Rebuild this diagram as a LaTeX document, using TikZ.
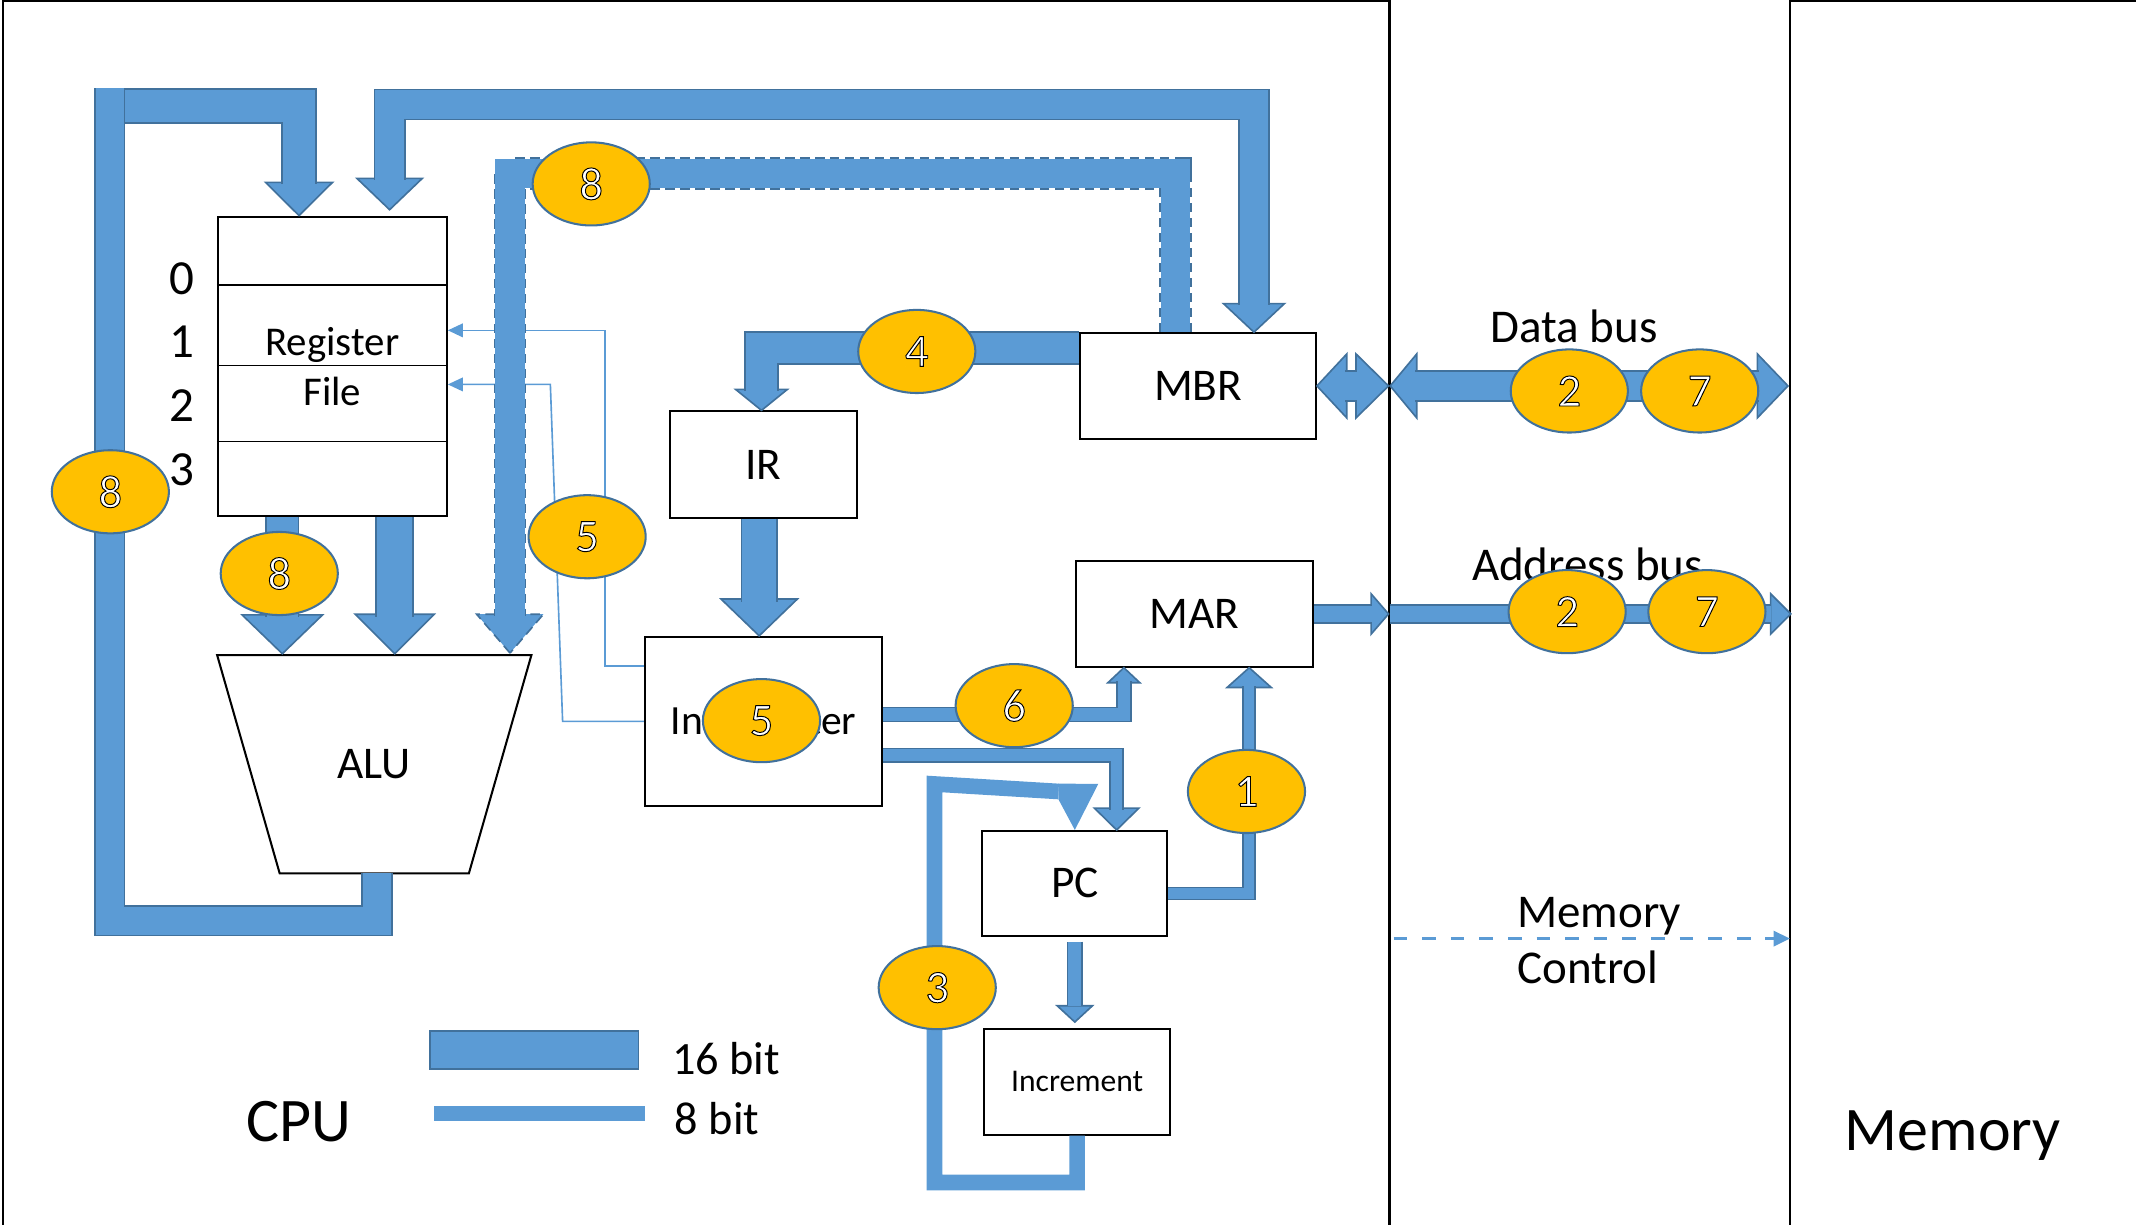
\documentclass[tikz,border=0pt]{standalone}
\usepackage{fontspec}
\setmainfont{Carlito}
\usetikzlibrary{arrows.meta,shapes.geometric}

\definecolor{busblue}{HTML}{5B9BD5}
\definecolor{busline}{HTML}{41719C}
\definecolor{stepgold}{HTML}{FFC000}

\newcommand{\sz}[1]{\fontsize{#1}{#1}\selectfont}
\newcommand{\outl}[1]{{\color{white}\special{pdf:literal direct q 0 0 0 RG 2 Tr 0.7 w}#1\special{pdf:literal direct Q}}}

\begin{document}
\begin{tikzpicture}[x=1pt,y=-1pt]
\tikzset{frame/.style={draw=black, line width=1.5pt, inner sep=0pt, outer sep=0pt}}
\tikzset{unit/.style={draw=black, line width=1.5pt, fill=white, inner sep=0pt, font=\sz{33.3}}}
\tikzset{bus/.style={draw=busline, line width=1.2pt, double=busblue, double distance=#1, line join=miter}}
\tikzset{plainbus/.style={draw=busblue, line width=#1, line join=miter}}
\tikzset{dashbus/.style={draw=busblue, line width=21.5pt, line join=miter,
  preaction={draw=busline, line width=24pt, line join=miter, dash pattern=on 7pt off 4pt}}}
\tikzset{ctrl/.style={draw=busblue, line width=1.2pt, -{Triangle[length=11pt,width=10pt]}}}
\tikzset{memctl/.style={draw=busblue, line width=2.4pt, dash pattern=on 10pt off 11pt, -{Triangle[length=12pt,width=11pt]}}}
\tikzset{badge/.style={ellipse, draw=busline, line width=1.5pt, fill=stepgold, minimum width=86pt, minimum height=61pt, inner sep=0pt, font=\sz{34}}}
\tikzset{pics/bushead/.style 2 args={code={\filldraw[fill=busblue, draw=busline, line width=1.2pt, line join=miter] (0,0) -- (-#2,#1) -- (-#2,-#1) -- cycle;}}}

\useasboundingbox (0,0) rectangle (1568,899);
\clip (0,0) rectangle (1568,899);

% frames
\node[frame, minimum width=1018, minimum height=960, anchor=north west] (cpu) at (2,1) {};
\node[frame, minimum width=300, minimum height=960, anchor=north west] (mem) at (1314,1) {};

% units
\node[unit, minimum width=168, minimum height=220, align=center, font=\fontsize{30}{36.4}\selectfont] (rf) at (244,269) {Register\\File};
\node[unit, minimum width=137, minimum height=78] (ir) at (560.5,341) {IR};
\node[unit, minimum width=174, minimum height=124, font=\sz{30.5}, text depth=0pt] (dec) at (560.4,529.5) {Interpreter};
\node[unit, minimum width=173, minimum height=77.4] (mbr) at (879.5,283.3) {MBR};
\node[unit, minimum width=174, minimum height=77.4] (mar) at (877,450.7) {MAR};
\node[unit, minimum width=136, minimum height=77] (pc) at (789,648.5) {PC};
\node[unit, minimum width=136.5, minimum height=77.5, font=\sz{23.2}] (inc) at (790.7,794.2) {Increment};
\node[inner sep=0pt, outer sep=0pt, minimum width=230.7, minimum height=160.2, font=\sz{33.3}] (alu) at (274.75,561) {ALU};
\draw[line width=1.5pt, line join=miter] (alu.north west) -- (alu.north east) -- ([xshift=-45.9]alu.south east)
  -- ([xshift=45.9]alu.south west) -- cycle;

\foreach \d in {-51,-110,-166}
  \draw[line width=0.9pt] ([yshift=\d]rf.north west) -- ([yshift=\d]rf.north east);

% control lines
\draw[ctrl] ([yshift=40.5]dec.west) -| (444,242.5) -- ([yshift=26.5]rf.east);
\draw[ctrl] (dec.west) -- (413,529.5) -- (404,282.2) -- ([yshift=-13.2]rf.east);

% ALU result back to the register file
\pic[rotate=-90] at ([xshift=-24.5]rf.north) {bushead={24.6}{24.4}};
\draw[bus=24pt] (70,77.8) -| ([xshift=-24.5,yshift=23.4]rf.north);
\draw[bus=20.5pt] ([xshift=2]alu.south) |- (80.5,676) -- (80.5,64.5);

% MBR and register file
\pic[rotate=-90] at ([xshift=42,yshift=4.3]rf.north) {bushead={24}{23}};
\pic[rotate=-90] at ([xshift=41]mbr.north) {bushead={22.4}{21}};
\draw[bus=21pt] ([xshift=42,yshift=26.3]rf.north) |- (920.5,76.7) -- ([xshift=41,yshift=20]mbr.north);

% MBR to ALU
\pic[rotate=-90, dash pattern=on 7pt off 4pt] at ([xshift=99.65,yshift=1.5]alu.north) {bushead={24.5}{28.5}};
\draw[dashbus] ([xshift=-16.5]mbr.north) |- (374.4,127.6) -- ([xshift=99.65,yshift=29]alu.north);

% MBR to IR, IR to interpreter
\pic[rotate=-90] at ([xshift=-1.5]ir.north) {bushead={19}{15.4}};
\draw[bus=22.6pt] ([yshift=27.9]mbr.west) -| ([xshift=-1.5,yshift=14.4]ir.north);
\pic[rotate=-90] at ([xshift=-3.1]dec.north) {bushead={28}{27}};
\draw[bus=25pt] ([xshift=-3.2]ir.south) -- ++(0,61.5);

% register file to ALU
\pic[rotate=-90] at ([xshift=-67.5,yshift=1]alu.north) {bushead={29.5}{28.5}};
\pic[rotate=-90] at ([xshift=15,yshift=1]alu.north) {bushead={29}{29}};
\draw[bus=22.6pt] ([xshift=-36.75]rf.south) -- ++(0,73.5);
\draw[bus=26pt] ([xshift=45.75]rf.south) -- ++(0,73);

% interpreter to MAR and PC
\pic[rotate=90] at ([xshift=-52]mar.south) {bushead={11.7}{11}};
\draw[bus=9pt] ([yshift=5]dec.east) -| ([xshift=-52,yshift=-10]mar.south);
\pic[rotate=-90] at ([xshift=30.7]pc.north) {bushead={16.3}{16}};
\draw[bus=8.5pt] ([yshift=-24.9]dec.east) -| ([xshift=30.7,yshift=15]pc.north);

% PC to MAR, PC to increment
\pic[rotate=90] at ([xshift=40]mar.south) {bushead={16.2}{14.5}};
\draw[bus=7.6pt] ([yshift=-7.5]pc.east) -| ([xshift=40,yshift=-13.5]mar.south);
\pic[rotate=-90] at ([yshift=-62.5]pc.south) {bushead={13}{12}};
\draw[bus=9.6pt] ([yshift=-3.5]pc.south) -- ++(0,47.5);

% increment back to PC
\draw[plainbus=11.5pt] (inc.south) |- (686,868) -- (686,575.5) -- (777,581);
\fill[busblue] (777,575.2) -- (806.2,575.5) -- (pc.north) -- (777,586.8) -- cycle;

% data bus
\coordinate (dbl) at (mbr.east -| cpu.east);
\coordinate (dbr) at (mbr.east -| mem.west);
\pic[rotate=180] at (mbr.east) {bushead={23.5}{21.9}};
\pic at ([xshift=-0.7]dbl) {bushead={23.5}{23.9}};
\draw[bus=21pt] ([xshift=20.4]mbr.east) -- ([xshift=-23.6]dbl);
\pic[rotate=180] at ([xshift=0.5]dbl) {bushead={23.5}{19.5}};
\pic at ([xshift=-1.5]dbr) {bushead={23.5}{22.5}};
\draw[bus=21pt] ([xshift=19]dbl) -- ([xshift=-23]dbr);

% address bus
\coordinate (abl) at (mar.east -| cpu.east);
\coordinate (abr) at (mar.east -| mem.west);
\pic at ([xshift=-0.7]abl) {bushead={14.8}{12.8}};
\draw[bus=12.4pt] (mar.east) -- ([xshift=-12.5]abl);
\pic at ([xshift=0.6]abr) {bushead={14.8}{14.8}};
\draw[bus=12.4pt] (abl) -- ([xshift=-13.8]abr);

% memory control
\coordinate (mcl) at (1023,689);
\draw[memctl] (mcl) -- (mcl -| mem.west);

% labels
\node[font=\sz{34.5}, anchor=base] (dblabel) at (1155.5,251.3) {Data bus};
\node[font=\sz{34.5}, anchor=base] (ablabel) at (1165.3,426) {Address bus};
\node[font=\fontsize{34.5}{41}\selectfont, align=left] (mclabel) at (1174,690.5) {Memory\\Control};

% steps
\foreach \n/\x/\y/\lab in {s8top/434/135/8, s8left/81/361/8, s8alu/205/421/8, s5reg/431/394/5,
    s4/673/258/4, s5dec/559/529/5, s6/744.5/518/6, s1/915/581/1, s3/688/725/3,
    s2data/1152/287/2, s7data/1247.7/287/7, s2addr/1150.4/449/2, s7addr/1253/449/7}
  \node[badge] (\n) at (\x,\y) {\outl{\lab}};

\foreach \r/\y in {0/216.3,1/262.6,2/309.7,3/356.5}
  \node[font=\sz{36}, anchor=base] (row\r) at (133.3,\y) {\r};

% key
\node[fill=busblue, draw=busline, line width=1.2pt, inner sep=0pt, minimum width=153, minimum height=28, anchor=north west] (key16) at (315,756) {};
\node[fill=busblue, inner sep=0pt, minimum width=155, minimum height=11.2, anchor=west] (key8) at (318.6,817.6) {};
\node[font=\sz{34}, anchor=base west] (key16txt) at (489.9,788.4) {16 bit};
\node[font=\sz{34}, anchor=base west] (key8txt) at (491.9,832.5) {8 bit};

\node[font=\sz{45.5}, anchor=base] (cpulabel) at (219.5,838) {CPU};
\node[font=\sz{45.5}, anchor=base] (memlabel) at (1433.4,844.2) {Memory};
\end{tikzpicture}
\end{document}
